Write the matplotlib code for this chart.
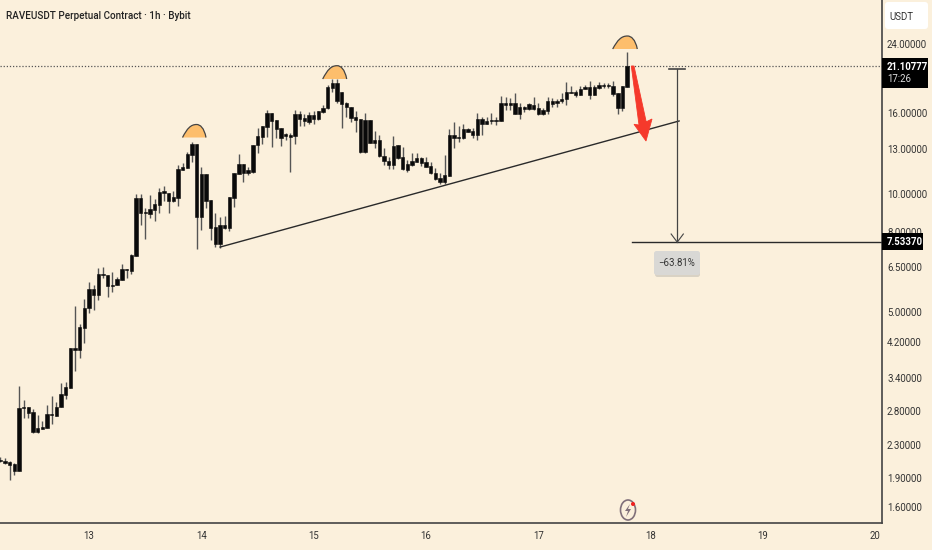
import matplotlib
matplotlib.use("Agg")
import matplotlib.pyplot as plt
import numpy as np
from matplotlib.patches import PathPatch, Rectangle, FancyBboxPatch, Polygon, Ellipse, Circle
from matplotlib.path import Path

open_ = [2.09,2.10,2.08,2.06,1.98,2.86,2.87,2.79,2.48,2.53,2.54,2.76,2.73,2.87,3.08,3.21,4.06,4.01,4.56,5.13,5.73,5.53,6.25,6.22,5.83,5.86,6.04,6.44,6.36,6.95,9.75,8.93,8.88,9.09,9.36,10.04,10.04,9.58,9.75,11.49,11.62,12.54,13.37,8.73,11.22,9.64,8.23,7.45,8.33,8.18,9.75,11.22,11.90,11.29,11.35,13.30,13.93,14.77,16.03,15.39,14.68,14.01,14.10,14.01,15.94,15.57,15.21,15.84,15.48,16.13,16.51,18.56,19.11,16.90,17.00,16.60,15.66,15.48,12.76,15.39,13.45,13.69,12.47,12.11,11.83,13.30,12.39,11.49,11.83,12.04,12.32,12.04,11.76,11.29,10.96,10.71,11.09,14.10,13.85,13.85,14.60,14.43,14.10,15.48,15.03,15.30,15.39,15.30,17.00,16.80,17.00,15.94,16.60,16.41,16.80,16.51,15.94,16.22,17.20,17.00,17.20,17.40,18.13,18.13,17.81,18.45,18.66,17.81,18.56,18.88,18.77,18.77,18.02,16.51,18.66]
high = [2.14,2.13,2.09,2.07,3.25,2.99,2.87,2.84,2.74,2.65,2.91,3.06,2.96,3.31,3.32,4.06,5.19,4.67,5.40,5.97,5.86,6.48,6.51,6.22,6.33,6.14,6.63,6.44,7.03,9.98,9.98,9.20,9.92,9.70,10.34,10.46,10.04,10.16,11.83,11.97,12.76,13.53,13.37,11.69,11.22,9.64,8.93,8.73,8.78,9.81,11.29,12.61,11.90,11.69,13.30,14.68,14.86,16.32,16.03,15.39,14.68,14.26,14.26,16.32,16.22,15.94,16.13,16.22,16.22,16.80,18.88,19.56,19.56,18.13,17.10,16.60,16.22,15.48,16.03,15.39,14.43,14.10,13.06,12.39,14.01,13.30,13.14,12.18,12.69,12.69,12.39,12.39,12.04,11.62,11.29,12.54,14.60,15.21,14.86,15.03,14.68,14.68,16.03,15.66,15.66,16.03,15.66,17.71,17.60,17.50,18.02,17.00,16.70,17.00,17.60,17.00,16.51,17.60,17.50,17.40,18.02,19.22,18.77,18.34,18.77,18.88,19.33,18.88,19.22,19.11,19.11,19.33,18.02,18.77,22.90]
low = [2.08,2.06,1.87,1.93,1.98,2.69,2.69,2.47,2.47,2.53,2.54,2.60,2.73,2.87,3.01,3.21,3.55,3.83,4.18,4.98,5.07,5.37,6.11,5.47,5.63,5.86,6.04,6.11,6.25,6.95,8.33,7.67,8.68,8.52,8.93,9.58,8.93,9.53,9.31,11.49,11.62,12.04,7.24,8.09,9.20,7.63,7.32,7.28,8.14,8.04,9.25,11.22,10.71,11.16,11.29,12.69,13.37,13.93,13.14,13.85,13.22,13.69,11.35,13.37,14.86,14.86,15.03,15.03,15.39,16.03,16.41,18.13,17.00,14.68,15.66,15.21,14.35,12.69,12.69,13.45,13.06,12.39,11.83,11.55,11.55,12.25,11.49,11.35,11.76,12.04,11.76,11.69,11.22,10.83,10.58,10.58,11.09,13.06,13.53,13.77,14.35,13.85,13.69,14.10,15.03,15.03,14.94,15.30,16.32,16.32,15.94,15.48,16.13,16.32,16.32,15.84,15.84,15.94,16.60,16.60,17.00,16.80,18.02,17.60,17.81,18.45,17.40,17.81,18.45,18.56,18.56,17.71,15.94,16.22,18.66]
close = [2.11,2.07,2.05,1.98,2.86,2.87,2.77,2.48,2.54,2.56,2.76,2.74,2.87,3.10,3.23,4.06,4.01,4.59,5.13,5.73,5.53,6.25,6.22,5.83,5.86,6.07,6.44,6.40,6.99,9.75,8.93,8.99,9.14,9.42,10.10,10.16,9.58,9.81,11.55,11.69,12.61,13.37,8.73,11.22,9.58,8.18,7.45,8.33,8.18,9.81,11.29,11.90,11.29,11.49,13.30,14.01,14.86,16.03,15.30,14.60,13.85,14.18,13.93,15.94,15.48,15.30,15.84,15.48,16.22,16.51,18.66,19.11,17.20,18.13,16.60,15.57,15.39,12.76,15.39,13.45,13.69,12.47,12.11,11.83,13.22,12.32,11.55,11.90,12.11,12.32,11.97,11.69,11.29,10.90,10.71,11.16,14.10,13.85,13.93,14.60,14.35,14.10,15.48,15.03,15.30,15.39,15.30,17.00,16.80,17.00,15.94,16.60,16.41,16.90,16.41,15.94,16.32,17.20,16.90,17.20,17.40,18.13,18.02,17.81,18.45,18.66,17.81,18.66,18.88,18.77,18.88,17.92,16.51,18.77,21.10]

price_ticks = [24, 16, 13, 10, 8, 6.5, 5, 4.2, 3.4, 2.8, 2.3, 1.9, 1.6]
day_labels = ["13", "14", "15", "16", "17", "18", "19", "20"]
day_bars = [19, 43, 67, 91, 115, 139, 163, 187]
last_price = 21.10777
target_price = 7.5337
trend_bars = [47, 145.1]
trend_prices = [7.32, 15.3]
measure_bar = 144.7
measure_top = 20.75

bg = "#FBF0DC"
ink = "#2a2a2a"
label = "#333333"
plt.rcParams["font.family"] = ["Roboto", "DejaVu Sans"]

fig = plt.figure(figsize=(9.32, 5.5), dpi=100, facecolor=bg)
ax = fig.add_axes([0, 27 / 550, 881.5 / 932, 523 / 550], facecolor=bg)
ax.set_yscale("log")
ax.set_xlim(-0.04, 881.5 / 4.68)
ax.set_ylim(1.458, 31.04)
for s in ["top", "left"]:
    ax.spines[s].set_visible(False)
for s in ["bottom", "right"]:
    ax.spines[s].set_color("#444444")
    ax.spines[s].set_linewidth(1.2)
ax.yaxis.tick_right()
ax.minorticks_off()
ax.set_yticks(price_ticks)
ax.set_yticklabels(["%.5f" % v for v in price_ticks], fontsize=6.9, color=label)
ax.tick_params(axis="y", length=0, pad=4)
ax.set_xticks(day_bars)
ax.set_xticklabels(day_labels, fontsize=6.9, color=label)
ax.tick_params(axis="x", length=0, pad=6)

# candles
x = np.arange(len(open_))
ax.vlines(x, low, high, color="#555555", lw=1.0, zorder=2)
body_low = np.minimum(open_, close)
body_high = np.maximum(open_, close)
ax.bar(x, body_high - body_low, bottom=body_low, width=0.72, color="#0a0a0a", edgecolor="#0a0a0a", lw=0.4, zorder=3)

# price lines and measure tool
ax.axhline(last_price, color="#555555", lw=0.9, ls=(0, (1, 1.5)), zorder=1)
ax.plot(trend_bars, trend_prices, color=ink, lw=1.0, zorder=4)
ax.plot([135, 188.4], [target_price, target_price], color=ink, lw=1.0, zorder=4)
ax.plot([measure_bar, measure_bar], [measure_top, target_price], color="#444444", lw=0.9, zorder=4)
ax.plot([143, 146.3], [measure_top, measure_top], color="#444444", lw=1.2, zorder=4)
ax.plot([143.4, measure_bar, 146.0], [7.9, target_price, 7.9], color="#444444", lw=0.8, zorder=4)

# overlay in pixels for the hand drawn things
ov = fig.add_axes([0, 0, 1, 1], facecolor="none")
ov.set_xlim(0, 932)
ov.set_ylim(550, 0)
ov.axis("off")

def dome(xl, xr, ybase, ytop):
    w = xr - xl
    h = ybase - ytop
    verts = [(xl, ybase), (xl + .2 * w, ybase - .7 * h), (xl + .35 * w, ytop), (xl + .6 * w, ytop),
             (xl + .75 * w, ytop), (xl + .92 * w, ybase - .75 * h), (xr, ybase)]
    codes = [Path.MOVETO] + [Path.CURVE4] * 6
    ov.add_patch(PathPatch(Path(verts, codes), fc="#FDBE6C", ec="#444444", lw=0.9, zorder=5))

dome(182.5, 206, 137.5, 124.5)
dome(322.7, 346.7, 79, 65.7)
dome(612.7, 637.3, 49, 36)

ov.add_patch(Polygon([(631.3, 66), (634, 66), (646.2, 121.8), (652, 119), (646, 141), (634, 124.3), (639, 125)],
                     closed=True, fc="#F5392B", ec="#F5392B", lw=0.6, zorder=5))

# badge
ov.add_patch(FancyBboxPatch((655, 253), 45, 24, boxstyle="round,pad=0,rounding_size=2.5", fc="#BDBAB2", ec="none", alpha=.55, zorder=5))
ov.add_patch(FancyBboxPatch((654, 251), 46, 24, boxstyle="round,pad=0,rounding_size=2.5", fc="#D9D8D5", ec="none", zorder=6))
ov.text(677, 263, "\u221263.81%", ha="center", va="center", fontsize=6.9, color=label, zorder=7)

# price scale labels
ov.add_patch(FancyBboxPatch((885, 2), 43, 27, boxstyle="round,pad=0,rounding_size=3", fc="white", ec="none", zorder=5))
ov.text(901, 17.5, "USDT", ha="center", va="center", fontsize=6.9, color=label, zorder=6)
ov.add_patch(Rectangle((882, 58), 46, 30, fc="black", ec="none", zorder=5))
ov.text(887, 66.5, "21.10777", ha="left", va="center", fontsize=6.9, color="white", fontweight="bold", zorder=6)
ov.text(887, 79.5, "17:26", ha="left", va="center", fontsize=6.9, color="#dddddd", zorder=6)
ov.add_patch(Rectangle((882, 233), 41, 17, fc="black", ec="none", zorder=5))
ov.text(887, 241.8, "7.53370", ha="left", va="center", fontsize=6.9, color="white", fontweight="bold", zorder=6)

ov.text(6, 16, "RAVEUSDT Perpetual Contract \u00b7 1h \u00b7 Bybit", ha="left", va="center",
        fontsize=7.1, color="#222222", fontweight="medium", zorder=6)

# flash icon
ov.add_patch(Ellipse((628, 510), 15, 20, fc="none", ec="#80707A", lw=1.2, zorder=5))
ov.add_patch(Polygon([(630, 504), (625, 511), (628, 511), (626, 517), (631, 509), (628, 509)],
                     closed=True, fc="#80707A", ec="none", zorder=6))
ov.add_patch(Circle((633, 504), 2, fc="#F02020", ec="none", zorder=7))

fig.savefig("out.png", dpi=100, facecolor=bg)
